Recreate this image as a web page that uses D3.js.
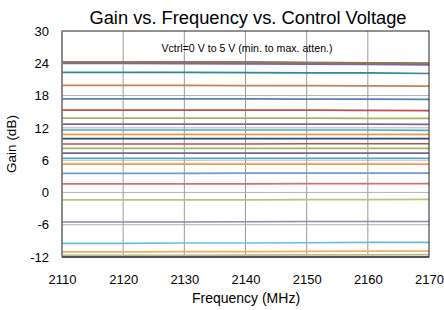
<!DOCTYPE html>
<html>
<head>
<meta charset="utf-8">
<script src="https://cdn.jsdelivr.net/npm/d3@7"></script>
<style>
  body { margin: 0; background: #fff; }
  svg { font-family: "Liberation Sans", Arial, sans-serif; }
</style>
</head>
<body>
<svg id="chart" width="444" height="310"></svg>
<script>
// frequency points (MHz)
const freqs = [2110, 2120, 2130, 2140, 2150, 2160, 2170];
const xTicks = [2110, 2120, 2130, 2140, 2150, 2160, 2170];
const yTicks = [-12, -6, 0, 6, 12, 18, 24, 30];

// gain curves, Vctrl = 0 V (top) .. 5 V (bottom)
const gains = [
    [24.25, 24.25, 24.2, 24.2, 24.15, 24.1, 24.0],
    [24.25, 24.25, 24.2, 24.2, 24.15, 24.1, 24.0],
    [24.2, 24.2, 24.15, 24.1, 24.05, 24.0, 23.9],
    [24.0, 24.0, 23.95, 23.9, 23.85, 23.8, 23.7],
    [22.3, 22.3, 22.3, 22.25, 22.2, 22.2, 22.1],
    [19.9, 19.9, 19.9, 19.85, 19.85, 19.8, 19.75],
    [17.4, 17.4, 17.4, 17.4, 17.35, 17.35, 17.3],
    [15.3, 15.3, 15.3, 15.3, 15.3, 15.25, 15.2],
    [13.8, 13.8, 13.8, 13.8, 13.8, 13.75, 13.75],
    [12.7, 12.7, 12.7, 12.7, 12.7, 12.7, 12.65],
    [11.6, 11.6, 11.6, 11.6, 11.6, 11.6, 11.55],
    [10.8, 10.8, 10.8, 10.8, 10.8, 10.8, 10.8],
    [10.0, 10.0, 10.0, 10.0, 10.0, 10.0, 10.0],
    [9.0, 9.0, 9.0, 9.0, 9.05, 9.05, 9.05],
    [8.2, 8.2, 8.2, 8.2, 8.2, 8.2, 8.2],
    [7.3, 7.3, 7.3, 7.3, 7.3, 7.3, 7.3],
    [6.35, 6.35, 6.35, 6.35, 6.35, 6.35, 6.35],
    [5.25, 5.25, 5.25, 5.25, 5.25, 5.25, 5.25],
    [3.55, 3.55, 3.55, 3.6, 3.6, 3.6, 3.6],
    [1.6, 1.6, 1.6, 1.6, 1.65, 1.65, 1.65],
    [-1.4, -1.4, -1.4, -1.4, -1.35, -1.35, -1.3],
    [-5.5, -5.5, -5.5, -5.45, -5.4, -5.4, -5.4],
    [-9.45, -9.45, -9.4, -9.4, -9.35, -9.3, -9.3],
    [-11.05, -11.05, -11.0, -11.0, -10.95, -10.9, -10.9],
    [-11.7, -11.7, -11.7, -11.65, -11.6, -11.6, -11.55]
];

const colors = [
    '#4F81BD', '#C0504D', '#77933C', '#8064A2', '#31859C', '#C9834F',
    '#4F81BD', '#C0504D', '#9BBB59', '#8064A2', '#4BACC6', '#F79646',
    '#2C4D75', '#C0504D', '#9BBB59', '#7F6099', '#4BACC6', '#F79646',
    '#729ACA', '#CD7371', '#AFC97A', '#9983B5', '#6FBDD1', '#F9AB6B',
    '#B5BE8A'
];

const margin = { left: 62, right: 15, top: 31, bottom: 53 };
const width = 444, height = 310;

const svg = d3.select('#chart');

const x = d3.scaleLinear().domain([2110, 2170]).range([margin.left, width - margin.right]);
const y = d3.scaleLinear().domain([-12, 30]).range([height - margin.bottom, margin.top]);

// grid
svg.append('g')
    .selectAll('line')
    .data(yTicks.slice(1, -1))
    .enter()
    .append('line')
    .attr('x1', x(2110)).attr('x2', x(2170))
    .attr('y1', d => y(d)).attr('y2', d => y(d))
    .attr('stroke', '#b3b3b3')
    .attr('stroke-width', 1);

svg.append('g')
    .selectAll('line')
    .data(xTicks.slice(1, -1))
    .enter()
    .append('line')
    .attr('x1', d => x(d)).attr('x2', d => x(d))
    .attr('y1', y(30)).attr('y2', y(-12))
    .attr('stroke', '#999')
    .attr('stroke-width', 1);

// curves
const line = d3.line()
    .x((d, i) => x(freqs[i]))
    .y(d => y(d));

svg.append('g')
    .selectAll('path')
    .data(gains)
    .enter()
    .append('path')
    .attr('d', line)
    .attr('fill', 'none')
    .attr('stroke', (d, i) => colors[i])
    .attr('stroke-width', 1.7);

// frame
svg.append('rect')
    .attr('x', x(2110)).attr('y', y(30))
    .attr('width', x(2170) - x(2110))
    .attr('height', y(-12) - y(30))
    .attr('fill', 'none')
    .attr('stroke', '#222')
    .attr('stroke-width', 1);

svg.append('line')
    .attr('x1', x(2110)).attr('x2', x(2110))
    .attr('y1', y(30)).attr('y2', y(-12))
    .attr('stroke', '#888').attr('stroke-width', 1.5);

svg.append('line')
    .attr('x1', x(2110)).attr('x2', x(2170))
    .attr('y1', y(-12)).attr('y2', y(-12))
    .attr('stroke', '#555').attr('stroke-width', 2);

// axes
const xAxis = svg.append('g')
    .attr('transform', `translate(0, ${y(-12)})`)
    .call(d3.axisBottom(x).tickValues(xTicks).tickFormat(d => String(d)).tickSize(0).tickPadding(18));

const yAxis = svg.append('g')
    .attr('transform', `translate(${x(2110)}, 0)`)
    .call(d3.axisLeft(y).tickValues(yTicks).tickFormat(d => String(d)).tickSize(0).tickPadding(13));

[xAxis, yAxis].forEach(a => {
    a.select('.domain').remove();
    a.selectAll('text')
        .attr('font-family', '"Liberation Sans", Arial, sans-serif')
        .attr('font-size', 13)
        .attr('fill', '#000');
});

// titles
svg.append('text')
    .attr('x', 248).attr('y', 24)
    .attr('text-anchor', 'middle')
    .attr('font-size', 18.3)
    .text('Gain vs. Frequency vs. Control Voltage');

svg.append('text')
    .attr('x', 247).attr('y', 52)
    .attr('text-anchor', 'middle')
    .attr('font-size', 10.6)
    .text('Vctrl=0 V to 5 V (min. to max. atten.)');

svg.append('text')
    .attr('x', 246).attr('y', 303)
    .attr('text-anchor', 'middle')
    .attr('font-size', 14)
    .text('Frequency (MHz)');

svg.append('text')
    .attr('transform', `translate(16, ${(y(30) + y(-12)) / 2}) rotate(-90)`)
    .attr('text-anchor', 'middle')
    .attr('font-size', 13.5)
    .text('Gain (dB)');
</script>
</body>
</html>
